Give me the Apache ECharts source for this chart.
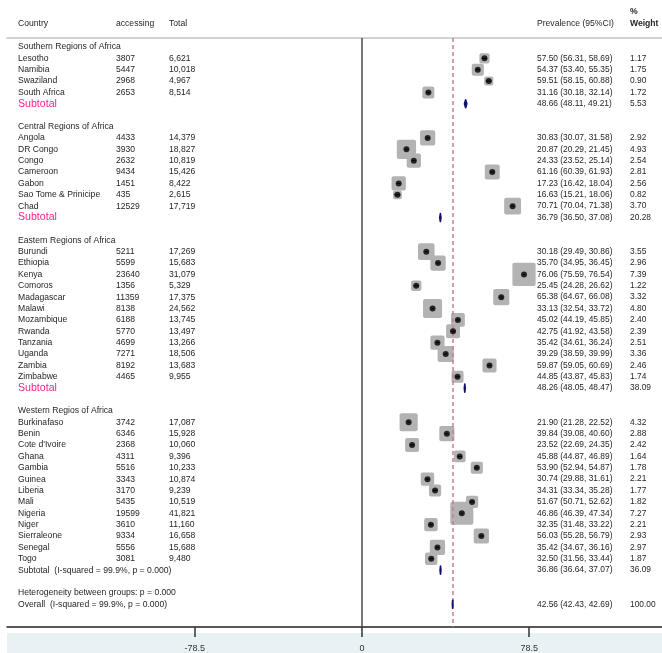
<!DOCTYPE html>
<html>
<head>
<meta charset="utf-8">
<script src="https://cdn.jsdelivr.net/npm/echarts@6/dist/echarts.min.js"></script>
<style>html,body{margin:0;padding:0;background:#fff;}#chart{width:662px;height:653px;}</style>
</head>
<body>
<div id="chart"></div>
<script>
// ---------------- data ----------------
const regionNames = ['Southern Regions of Africa', 'Central Regions of Africa', 'Eastern Regions of Africa', 'Western Regios of Africa'];
const regionCounts = [4, 7, 12, 13];
const countries = [
  'Lesotho', 'Namibia', 'Swaziland', 'South Africa',
  'Angola', 'DR Congo', 'Congo', 'Cameroon', 'Gabon', 'Sao Tome & Prinicipe', 'Chad',
  'Burundi', 'Ethiopia', 'Kenya', 'Comoros', 'Madagascar', 'Malawi', 'Mozambique', 'Rwanda', 'Tanzania', 'Uganda', 'Zambia', 'Zimbabwe',
  'Burkinafaso', 'Benin', "Cote d'Ivoire", 'Ghana', 'Gambia', 'Guinea', 'Liberia', 'Mali', 'Nigeria', 'Niger', 'Sierraleone', 'Senegal', 'Togo'
];
const accessing = [
  3807, 5447, 2968, 2653,
  4433, 3930, 2632, 9434, 1451, 435, 12529,
  5211, 5599, 23640, 1356, 11359, 8138, 6188, 5770, 4699, 7271, 8192, 4465,
  3742, 6346, 2368, 4311, 5516, 3343, 3170, 5435, 19599, 3610, 9334, 5556, 3081
];
const totals = [
  6621, 10018, 4967, 8514,
  14379, 18827, 10819, 15426, 8422, 2615, 17719,
  17269, 15683, 31079, 5329, 17375, 24562, 13745, 13497, 13266, 18506, 13683, 9955,
  17087, 15928, 10060, 9396, 10233, 10874, 9239, 10519, 41821, 11160, 16658, 15688, 9480
];
const prevalence = [
  57.50, 54.37, 59.51, 31.16,
  30.83, 20.87, 24.33, 61.16, 17.23, 16.63, 70.71,
  30.18, 35.70, 76.06, 25.45, 65.38, 33.13, 45.02, 42.75, 35.42, 39.29, 59.87, 44.85,
  21.90, 39.84, 23.52, 45.88, 53.90, 30.74, 34.31, 51.67, 46.86, 32.35, 56.03, 35.42, 32.50
];
const ciLow = [
  56.31, 53.40, 58.15, 30.18,
  30.07, 20.29, 23.52, 60.39, 16.42, 15.21, 70.04,
  29.49, 34.95, 75.59, 24.28, 64.67, 32.54, 44.19, 41.92, 34.61, 38.59, 59.05, 43.87,
  21.28, 39.08, 22.69, 44.87, 52.94, 29.88, 33.34, 50.71, 46.39, 31.48, 55.28, 34.67, 31.56
];
const ciHigh = [
  58.69, 55.35, 60.88, 32.14,
  31.58, 21.45, 25.14, 61.93, 18.04, 18.06, 71.38,
  30.86, 36.45, 76.54, 26.62, 66.08, 33.72, 45.85, 43.58, 36.24, 39.99, 60.69, 45.83,
  22.52, 40.60, 24.35, 46.89, 54.87, 31.61, 35.28, 52.62, 47.34, 33.22, 56.79, 36.16, 33.44
];
const weights = [
  1.17, 1.75, 0.90, 1.72,
  2.92, 4.93, 2.54, 2.81, 2.56, 0.82, 3.70,
  3.55, 2.96, 7.39, 1.22, 3.32, 4.80, 2.40, 2.39, 2.51, 3.36, 2.46, 1.74,
  4.32, 2.88, 2.42, 1.64, 1.78, 2.21, 1.77, 1.82, 7.27, 2.21, 2.93, 2.97, 1.87
];
const subtotalLabels = ['Subtotal', 'Subtotal', 'Subtotal', 'Subtotal  (I-squared = 99.9%, p = 0.000)'];
const subtotalPrev = [48.66, 36.79, 48.26, 36.86];
const subtotalLow = [48.11, 36.50, 48.05, 36.64];
const subtotalHigh = [49.21, 37.08, 48.47, 37.07];
const subtotalWeight = [5.53, 20.28, 38.09, 36.09];
const heterogeneityLabel = 'Heterogeneity between groups: p = 0.000';
const overallLabel = 'Overall  (I-squared = 99.9%, p = 0.000)';
const overallPrev = 42.56, overallLow = 42.43, overallHigh = 42.69, overallWeight = 100.00;
const xTicks = [-78.5, 0, 78.5];
const nullValue = 0;

// ---------------- build rows ----------------
const rows = [];
let r = 0, ci = 0;
regionNames.forEach((name, g) => {
  rows.push({ row: r++, kind: 'header', label: name });
  for (let k = 0; k < regionCounts[g]; k++, ci++) {
    rows.push({ row: r++, kind: 'study', label: countries[ci], acc: accessing[ci], tot: totals[ci],
      est: prevalence[ci], lo: ciLow[ci], hi: ciHigh[ci], w: weights[ci] });
  }
  rows.push({ row: r++, kind: 'subtotal', label: subtotalLabels[g], pink: g < 3,
    est: subtotalPrev[g], lo: subtotalLow[g], hi: subtotalHigh[g], w: subtotalWeight[g] });
  r++; // blank row
});
rows.push({ row: r++, kind: 'note', label: heterogeneityLabel });
rows.push({ row: r++, kind: 'overall', label: overallLabel, est: overallPrev, lo: overallLow, hi: overallHigh, w: overallWeight });

const studies = rows.filter(d => d.kind === 'study');
const pooled = rows.filter(d => d.kind === 'subtotal' || d.kind === 'overall');

const FONT = 'Liberation Sans, Arial, sans-serif';
const TXT = '#262626';
const fmt2 = v => v.toFixed(2);
const fmtInt = v => v.toLocaleString('en-US');

const COL = { name: 18, acc: 116, tot: 169, prev: 537, wt: 630 };

function txt(x, y, s, opt) {
  opt = opt || {};
  return { type: 'text', x: x, y: y, silent: true,
    style: { text: s, fill: opt.fill || TXT, fontSize: opt.size || 8.6, fontFamily: FONT,
      fontWeight: opt.bold ? 'bold' : 'normal', align: 'left', verticalAlign: 'middle' } };
}

const chart = echarts.init(document.getElementById('chart'), null, { renderer: 'canvas' });
const X_MIN = (7 - 362) / 2.13, X_MAX = (662 - 362) / 2.13;

const option = {
  animation: false,
  backgroundColor: '#ffffff',
  grid: { left: 7, right: 0, top: 38, bottom: 21, containLabel: false },
  xAxis: [
    { type: 'value', position: 'bottom', min: X_MIN, max: X_MAX,
      axisLine: { show: true, onZero: false, lineStyle: { color: '#222', width: 1.5 } },
      axisTick: { show: true, customValues: xTicks, length: 10, lineStyle: { color: '#333', width: 1.5 } },
      axisLabel: { show: true, customValues: xTicks, margin: 17, fontSize: 9, fontFamily: FONT, color: '#333',
        formatter: v => String(v) },
      splitLine: { show: false } },
    { type: 'value', position: 'top', min: X_MIN, max: X_MAX,
      axisLine: { show: true, onZero: false, lineStyle: { color: '#c4c4c4', width: 1.5 } },
      axisTick: { show: false }, axisLabel: { show: false }, splitLine: { show: false } }
  ],
  yAxis: { type: 'value', inverse: true, min: -0.785, max: 51.0, show: false },
  graphic: [
    { type: 'rect', z: -10, silent: true, shape: { x: 7, y: 633, width: 655, height: 20 }, style: { fill: '#e8f1f3' } },
    txt(COL.name, 24, 'Country'),
    txt(COL.acc, 24, 'accessing'),
    txt(COL.tot, 24, 'Total'),
    txt(COL.prev, 24, 'Prevalence (95%CI)'),
    txt(COL.wt, 12, '%', { bold: true }),
    txt(COL.wt, 24, 'Weight', { bold: true })
  ],
  series: [
    { // reference lines
      type: 'line', data: [], z: 1, silent: true,
      markLine: { symbol: ['none', 'none'], silent: true, label: { show: false },
        data: [
          { xAxis: nullValue, lineStyle: { color: '#4a4a4a', width: 1.5, type: 'solid' } },
          { xAxis: overallPrev, lineStyle: { color: '#c4838c', width: 1.5, type: [4, 3] } }
        ] }
    },
    { // weight boxes
      type: 'custom', z: 3, silent: true,
      data: studies.map(d => [d.est, d.row, d.w]),
      encode: { x: 0, y: 1 },
      renderItem: (params, api) => {
        const c = api.coord([api.value(0), api.value(1)]);
        const s = 1.5 + 8 * Math.sqrt(api.value(2));
        return { type: 'rect', shape: { x: c[0] - s / 2, y: c[1] - s / 2, width: s, height: s, r: 2 },
          style: { fill: '#b3b3b3' } };
      }
    },
    { // confidence intervals
      type: 'custom', z: 4, silent: true,
      data: studies.map(d => [d.lo, d.row, d.hi]),
      encode: { x: [0, 2], y: 1 },
      renderItem: (params, api) => {
        const a = api.coord([api.value(0), api.value(1)]);
        const b = api.coord([api.value(2), api.value(1)]);
        return { type: 'line', shape: { x1: a[0], y1: a[1], x2: b[0], y2: b[1] },
          style: { stroke: '#000', lineWidth: 1 } };
      }
    },
    { // point estimates
      type: 'scatter', z: 5, silent: true,
      data: studies.map(d => [d.est, d.row]),
      symbol: 'circle', symbolSize: 6,
      itemStyle: { color: '#000' }
    },
    { // pooled diamonds
      type: 'custom', z: 5, silent: true,
      data: pooled.map(d => [d.est, d.row, d.lo, d.hi]),
      encode: { x: [0, 2, 3], y: 1 },
      renderItem: (params, api) => {
        const row = api.value(1);
        const m = api.coord([api.value(0), row]);
        const l = api.coord([api.value(2), row]);
        const h = api.coord([api.value(3), row]);
        const hh = 4;
        return { type: 'polygon',
          shape: { points: [[l[0], m[1]], [m[0], m[1] - hh], [h[0], m[1]], [m[0], m[1] + hh]] },
          style: { fill: '#101070', stroke: '#101070', lineWidth: 1.6, lineJoin: 'round' } };
      }
    },
    { // text columns
      type: 'custom', z: 6, silent: true, clip: false,
      data: rows.map(d => [0, d.row]),
      encode: { x: 0, y: 1 },
      renderItem: (params, api) => {
        const d = rows[params.dataIndex];
        const y = api.coord([0, d.row])[1];
        const ch = [];
        if (d.kind === 'subtotal' && d.pink) {
          ch.push(txt(COL.name, y, d.label, { fill: '#f2238f', size: 10.6 }));
        } else {
          ch.push(txt(COL.name, y, d.label));
        }
        if (d.kind === 'study') {
          ch.push(txt(COL.acc, y, String(d.acc)));
          ch.push(txt(COL.tot, y, fmtInt(d.tot)));
        }
        if (d.est !== undefined) {
          ch.push(txt(COL.prev, y, fmt2(d.est) + ' (' + fmt2(d.lo) + ', ' + fmt2(d.hi) + ')', { size: 8.4 }));
          ch.push(txt(COL.wt, y, fmt2(d.w), { size: 8.4 }));
        }
        return { type: 'group', children: ch };
      }
    }
  ]
};
chart.setOption(option);
</script>
</body>
</html>
